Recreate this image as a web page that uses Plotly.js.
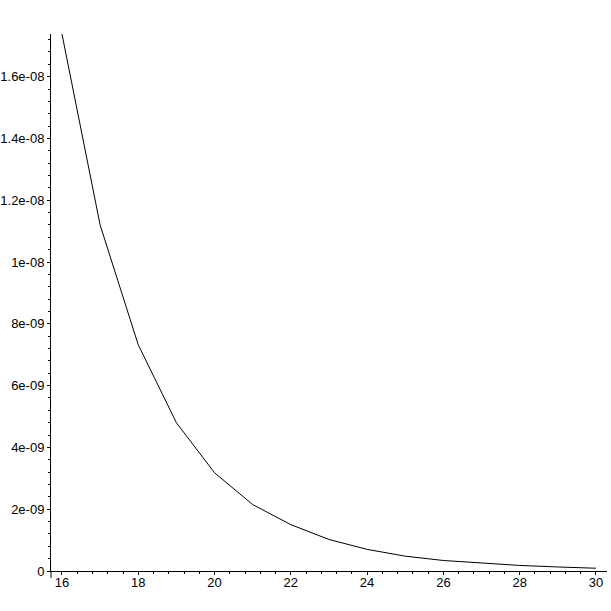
<!DOCTYPE html>
<html>
<head>
<meta charset="utf-8">
<script src="https://cdn.plot.ly/plotly-3.0.1.min.js"></script>
<style>html,body{margin:0;padding:0;background:#fff;}#chart{width:611px;height:611px;}</style>
</head>
<body>
<div id="chart"></div>
<script>
const xValues = [16,17,18,19,20,21,22,23,24,25,26,27,28,29,30];
const yValues = [1.738e-8,1.120e-8,7.32e-9,4.80e-9,3.18e-9,2.15e-9,1.50e-9,1.02e-9,7.0e-10,4.8e-10,3.4e-10,2.5e-10,1.8e-10,1.3e-10,0.9e-10];
const yTickVals = [0,2e-9,4e-9,6e-9,8e-9,1e-8,1.2e-8,1.4e-8,1.6e-8];
const yTickText = ["0","2e-09","4e-09","6e-09","8e-09","1e-08","1.2e-08","1.4e-08","1.6e-08"];
const xTickVals = [16,18,20,22,24,26,28,30];
const xTickText = ["16","18","20","22","24","26","28","30"];

const font = {family: "Liberation Sans, Arial, sans-serif", size: 13, color: "#000"};

Plotly.newPlot("chart", [{
  x: xValues, y: yValues, type: "scatter", mode: "lines",
  line: {color: "#000", width: 1}, hoverinfo: "none"
}], {
  width: 611, height: 611,
  margin: {l: 51, r: 4, t: 34, b: 40, pad: 0},
  paper_bgcolor: "#fff", plot_bgcolor: "#fff",
  showlegend: false,
  font: font,
  xaxis: {
    range: [15.712, 30.29], showgrid: false, zeroline: false,
    showline: true, linecolor: "#000", linewidth: 1,
    tickmode: "array", tickvals: xTickVals, ticktext: xTickText,
    ticks: "outside", ticklen: 3, tickwidth: 1, tickcolor: "#000",
    tickfont: font, ticklabelstandoff: -4,
    minor: {tickmode: "linear", tick0: 0, dtick: 0.4, ticks: "outside", ticklen: 2, tickcolor: "#000", showgrid: false}
  },
  yaxis: {
    range: [0, 1.738e-8], showgrid: false, zeroline: false,
    showline: true, linecolor: "#000", linewidth: 1,
    tickmode: "array", tickvals: yTickVals, ticktext: yTickText,
    ticks: "outside", ticklen: 3, tickwidth: 1, tickcolor: "#000",
    tickfont: font,
    minor: {tickmode: "linear", tick0: 0, dtick: 4e-10, ticks: "outside", ticklen: 2, tickcolor: "#000", showgrid: false}
  },
  shapes: [{
    type: "line", xref: "paper", yref: "paper",
    x0: 0, x1: 0, y0: 0, y1: -7/537,
    line: {color: "#000", width: 1}
  }]
}, {staticPlot: true, displayModeBar: false});
</script>
</body>
</html>
